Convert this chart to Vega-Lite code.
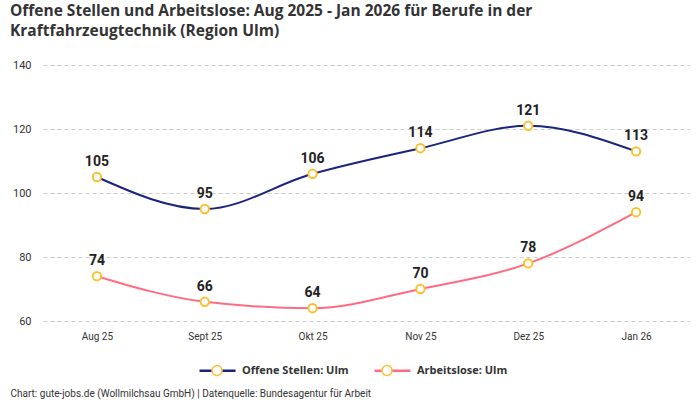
{
  "$schema": "https://vega.github.io/schema/vega-lite/v6.json",
  "width": 647,
  "height": 256,
  "autosize": {"type": "none"},
  "padding": {"left": 43, "top": 65, "right": 10, "bottom": 79},
  "background": "white",
  "config": {
    "font": "Roboto",
    "view": {"stroke": null},
    "legend": {
      "labelFont": "Open Sans",
      "labelFontSize": 11,
      "labelFontWeight": "bold",
      "labelColor": "#333333",
      "labelOffset": 5,
      "columnPadding": 20,
      "symbolSize": 1296,
      "padding": 0
    }
  },
  "title": {
    "text": [
      "Offene Stellen und Arbeitslose: Aug 2025 - Jan 2026 für Berufe in der",
      "Kraftfahrzeugtechnik (Region Ulm)"
    ],
    "anchor": "start",
    "offset": 20,
    "font": "Open Sans",
    "fontSize": 15.5,
    "fontWeight": "bold",
    "color": "#333333",
    "lineHeight": 20
  },
  "data": {
    "values": [
      {"monat": "Aug 25", "reihe": "Offene Stellen: Ulm", "wert": 105},
      {"monat": "Sept 25", "reihe": "Offene Stellen: Ulm", "wert": 95},
      {"monat": "Okt 25", "reihe": "Offene Stellen: Ulm", "wert": 106},
      {"monat": "Nov 25", "reihe": "Offene Stellen: Ulm", "wert": 114},
      {"monat": "Dez 25", "reihe": "Offene Stellen: Ulm", "wert": 121},
      {"monat": "Jan 26", "reihe": "Offene Stellen: Ulm", "wert": 113},
      {"monat": "Aug 25", "reihe": "Arbeitslose: Ulm", "wert": 74},
      {"monat": "Sept 25", "reihe": "Arbeitslose: Ulm", "wert": 66},
      {"monat": "Okt 25", "reihe": "Arbeitslose: Ulm", "wert": 64},
      {"monat": "Nov 25", "reihe": "Arbeitslose: Ulm", "wert": 70},
      {"monat": "Dez 25", "reihe": "Arbeitslose: Ulm", "wert": 78},
      {"monat": "Jan 26", "reihe": "Arbeitslose: Ulm", "wert": 94}
    ]
  },
  "encoding": {
    "x": {
      "field": "monat",
      "type": "ordinal",
      "sort": ["Aug 25", "Sept 25", "Okt 25", "Nov 25", "Dez 25", "Jan 26"],
      "axis": {
        "title": "Chart: gute-jobs.de (Wollmilchsau GmbH) | Datenquelle: Bundesagentur für Arbeit",
        "titleX": -33,
        "titleY": 72,
        "titleAlign": "left",
        "titleBaseline": "middle",
        "titleFontSize": 10,
        "titleFontWeight": "normal",
        "titleColor": "#333333",
        "labelAngle": 0,
        "labelFontSize": 10,
        "labelColor": "#333333",
        "labelPadding": 10,
        "ticks": false,
        "domain": false,
        "grid": false
      }
    },
    "y": {
      "field": "wert",
      "type": "quantitative",
      "scale": {"domain": [60, 140]},
      "axis": {
        "title": null,
        "values": [60, 80, 100, 120, 140],
        "labelFontSize": 11,
        "labelColor": "#333333",
        "labelPadding": 12,
        "ticks": false,
        "domain": false,
        "gridDash": [4, 3],
        "gridColor": "#cccccc"
      }
    }
  },
  "layer": [
    {
      "mark": {"type": "line", "interpolate": "monotone", "strokeWidth": 2},
      "encoding": {
        "color": {
          "field": "reihe",
          "type": "nominal",
          "sort": ["Offene Stellen: Ulm", "Arbeitslose: Ulm"],
          "scale": {"range": ["#1a237e", "#ff6b81"]},
          "legend": {
            "title": null,
            "orient": "none",
            "direction": "horizontal",
            "legendX": 155,
            "legendY": 286,
            "symbolType": "stroke",
            "symbolStrokeWidth": 2.5
          }
        }
      }
    },
    {
      "mark": {
        "type": "point",
        "filled": false,
        "fill": "white",
        "stroke": "#fbc02d",
        "strokeWidth": 2,
        "size": 70
      },
      "encoding": {
        "opacity": {
          "field": "reihe",
          "type": "ordinal",
          "scale": {
            "domain": ["Offene Stellen: Ulm", "Arbeitslose: Ulm"],
            "range": [1, 1]
          },
          "legend": {
            "title": null,
            "orient": "none",
            "direction": "horizontal",
            "legendX": 155,
            "legendY": 286,
            "symbolType": "M -0.28 0 A 0.28 0.28 0 1 1 0.28 0 A 0.28 0.28 0 1 1 -0.28 0 Z",
            "labelOpacity": 0,
            "encode": {
              "symbols": {
                "update": {
                  "fill": {"value": "white"},
                  "stroke": {"value": "#fbc02d"},
                  "strokeWidth": {"value": 2},
                  "opacity": {"value": 1}
                }
              }
            }
          }
        }
      }
    },
    {
      "mark": {
        "type": "text",
        "dy": -15,
        "fontSize": 14,
        "fontWeight": "bold",
        "color": "#222222"
      },
      "encoding": {
        "text": {"field": "wert", "type": "quantitative"}
      }
    }
  ]
}
